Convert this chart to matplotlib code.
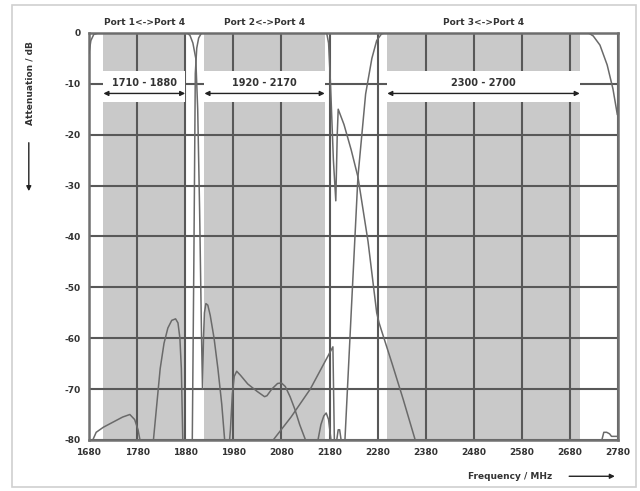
import matplotlib.pyplot as plt
from matplotlib.patches import Rectangle, FancyArrowPatch

plt.rcParams['axes.unicode_minus'] = False

# Полосы пропускания портов
band_lo = [1710, 1920, 2300]
band_hi = [1880, 2170, 2700]
band_labels = ["1710 - 1880", "1920 - 2170", "2300 - 2700"]
port_titles = ["Port 1<->Port 4", "Port 2<->Port 4", "Port 3<->Port 4"]

# Port 1 -> Port 4
f1 = [1680, 1684, 1690, 1700, 1884, 1890, 1896, 1902, 1906, 1910, 1914, 1916,
      1918, 1920, 1923, 1927, 1932, 1940, 1948, 1956, 1962, 1968, 1974, 1978,
      1982, 1987, 1995, 2010, 2030, 2045, 2050, 2060, 2072, 2080, 2088, 2098,
      2108, 2118, 2130, 2140, 2156, 2162, 2168, 2173, 2178, 2183, 2188, 2195,
      2198, 2201, 2204, 2210, 2740, 2746, 2750, 2756, 2762, 2766, 2780]
a1 = [-4, -1.5, -0.3, 0, 0, -0.5, -2, -5, -15, -35, -60, -70,
      -60, -55, -53.2, -53.5, -55.5, -60, -66, -73, -80, -85, -78, -71,
      -67.5, -66.5, -67.3, -69, -70.5, -71.5, -71.3, -70, -68.9, -68.8, -69.5, -71.5,
      -74, -77, -80, -88, -80, -77, -75.3, -74.7, -76, -80, -86, -80,
      -78, -78, -80, -90, -90, -80, -78.5, -78.5, -78.8, -79.3, -79.3]

# Port 2 -> Port 4
f2 = [1680, 1688, 1695, 1710, 1730, 1750, 1765, 1775, 1782, 1786, 1792, 1808,
      1814, 1820, 1828, 1836, 1844, 1852, 1860, 1865, 1869, 1872, 1875, 1880,
      1894, 1898, 1901, 1904, 1908, 1914, 2174, 2178, 2182, 2188, 2193, 2196,
      2198, 2210, 2225, 2239, 2260, 2278, 2283, 2288, 2310, 2333, 2358, 2370]
a2 = [-85, -80, -78.5, -77.5, -76.5, -75.5, -75, -76, -78, -80, -86, -86,
      -80, -74, -66, -61, -58, -56.5, -56.2, -57, -60, -66, -80, -88,
      -88, -45, -8, -3, -1, 0, 0, -2, -10, -25, -33, -20,
      -15, -18, -23, -28.3, -41, -55, -57, -58.5, -65, -72, -80, -85]

# Port 3 -> Port 4
f3 = [2050, 2063, 2100, 2140, 2187, 2190, 2200, 2212, 2225, 2239, 2255, 2268,
      2278, 2288, 2295, 2718, 2728, 2742, 2757, 2769, 2778]
a3 = [-85, -80, -75.5, -70, -61.7, -80, -90, -80, -55, -28.3, -12, -5,
      -1.5, -0.2, 0, 0, -0.6, -2.4, -6.3, -11, -16]

GRAY_BAND = '#c9c9c9'
GRID = '#585858'
CURVE = '#6a6a6a'
TXT = '#333333'

fig = plt.figure(figsize=(6.4, 4.91), dpi=100)
fig.patches.append(Rectangle((0.018, 0.008), 0.975, 0.982, transform=fig.transFigure,
                             fill=False, edgecolor='#d0d0d0', linewidth=1.2))
ax = fig.add_axes([0.139, 0.104, 0.827, 0.829])

# Серые полосы с белой полосой под подписи
for lo, hi, lab in zip(band_lo, band_hi, band_labels):
    ax.axvspan(lo, hi, color=GRAY_BAND, zorder=0.2, linewidth=0)
    ax.add_patch(Rectangle((lo, -13.6), hi - lo, 6.1, facecolor='white',
                           edgecolor='none', zorder=1))
    ax.text((lo + hi) / 2, -9.9, lab, ha='center', va='center', fontsize=7,
            fontweight='bold', color=TXT, zorder=4)
    ax.annotate('', xy=(lo, -11.9), xytext=(hi, -11.9),
                arrowprops=dict(arrowstyle='<|-|>', color='#222222', lw=1.0,
                                mutation_scale=7, shrinkA=0, shrinkB=0), zorder=4)

for lo, hi, title in zip(band_lo, band_hi, port_titles):
    ax.text((lo + hi) / 2, 1.2, title, ha='center', va='bottom', fontsize=6.5,
            fontweight='bold', color=TXT)

# Кривые
for f, a in [(f1, a1), (f2, a2), (f3, a3)]:
    ax.plot(f, a, color=CURVE, linewidth=1.1, zorder=3)

ax.set_xlim(1680, 2780)
ax.set_ylim(-80, 0)
ax.set_xticks(range(1680, 2781, 100))
ax.set_yticks(range(-80, 1, 10))
ax.set_axisbelow(True)
ax.grid(True, color=GRID, linewidth=1.5)
ax.tick_params(length=0, labelsize=6.5, colors=TXT, pad=6)
for lab in ax.get_xticklabels() + ax.get_yticklabels():
    lab.set_fontweight('bold')
for sp in ax.spines.values():
    sp.set_color('#707070')
    sp.set_linewidth(1.8)

# Подписи осей со стрелками
fig.text(0.047, 0.83, 'Attenuation / dB', rotation=90, ha='center', va='center',
         fontsize=6.5, fontweight='bold', color=TXT)
fig.patches.append(FancyArrowPatch(
    (0.045, 0.715), (0.045, 0.605), transform=fig.transFigure,
    arrowstyle='-|>', mutation_scale=7, color='#222222', lw=1.0))
fig.text(0.797, 0.029, 'Frequency / MHz', ha='center', va='center',
         fontsize=6.5, fontweight='bold', color=TXT)
fig.patches.append(FancyArrowPatch(
    (0.885, 0.030), (0.965, 0.030), transform=fig.transFigure,
    arrowstyle='-|>', mutation_scale=7, color='#222222', lw=1.0))

fig.savefig('out.png', dpi=100)
